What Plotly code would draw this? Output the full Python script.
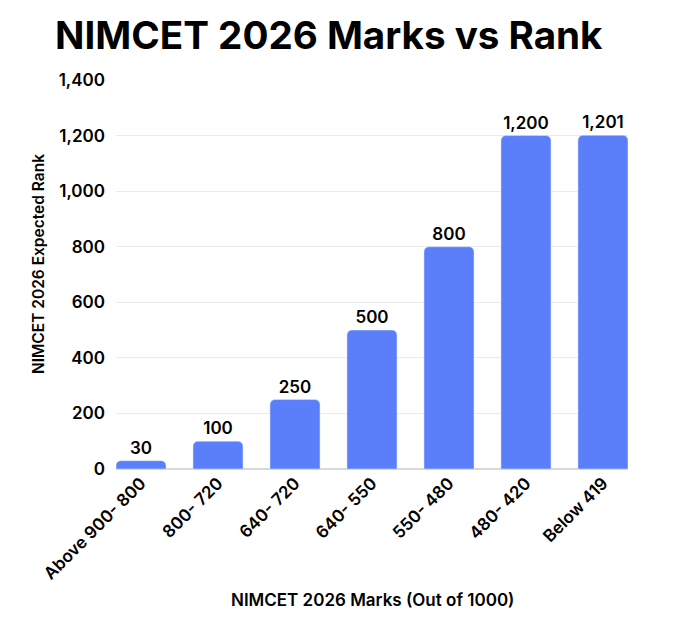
import plotly.graph_objects as go

# marks range vs expected rank
marks = ["Above 900- 800", "800- 720", "640- 720", "640- 550", "550- 480", "480- 420", "Below 419"]
rank = [30, 100, 250, 500, 800, 1200, 1201]

FONT = "Inter"

fig = go.Figure()
fig.add_trace(go.Bar(
    x=marks,
    y=rank,
    marker=dict(color="#5B7FFB", cornerradius=5),
    text=[f"{v:,}" for v in rank],
    textposition="outside",
    textfont=dict(family=FONT, size=17, color="black", weight=600),
    cliponaxis=False,
))

fig.update_layout(
    width=697,
    height=637,
    paper_bgcolor="white",
    plot_bgcolor="white",
    margin=dict(l=108, r=77, t=72, b=176),
    bargap=0.35,
    showlegend=False,
    font=dict(family=FONT, size=17, color="black"),
    title=dict(
        text="NIMCET 2026 Marks vs Rank",
        font=dict(family=FONT, size=38.6, color="black", weight=700),
        x=0.0675, xanchor="left",
        y=0.957, yanchor="middle",
    ),
)

# axis titles as annotations so they sit where the original has them
fig.add_annotation(
    text="NIMCET 2026 Marks (Out of 1000)",
    xref="paper", yref="paper", x=0.5, y=0, yshift=-131,
    xanchor="center", yanchor="middle", showarrow=False,
    font=dict(family=FONT, size=17, color="black", weight=600),
)
fig.add_annotation(
    text="NIMCET 2026 Expected Rank",
    xref="paper", yref="paper", x=0, y=0.527, xshift=-77,
    xanchor="center", yanchor="middle", textangle=-90, showarrow=False,
    font=dict(family=FONT, size=15.5, color="black", weight=600),
)

fig.update_xaxes(
    range=[-0.325, 6.325],
    tickangle=-45,
    tickfont=dict(family=FONT, size=17, color="black", weight=600),
    showgrid=False,
    showline=False,
    ticks="",
)

fig.update_yaxes(
    range=[0, 1400],
    dtick=200,
    tickformat=",",
    tickfont=dict(family=FONT, size=17, color="black", weight=600),
    showgrid=True,
    gridcolor="#EBEBEB",
    zeroline=True,
    zerolinecolor="#D9D9D9",
    zerolinewidth=2,
    ticks="",
    ticklabelstandoff=10,
)

fig.write_html("out.html")
